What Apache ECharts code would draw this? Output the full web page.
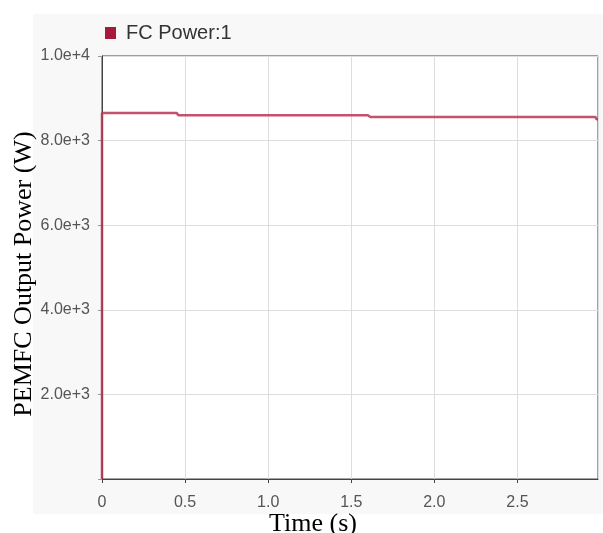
<!DOCTYPE html>
<html>
<head>
<meta charset="utf-8">
<script src="https://cdn.jsdelivr.net/npm/echarts@6/dist/echarts.min.js"></script>
<style>
  html, body { margin: 0; padding: 0; background: #fff; }
  #chart { width: 603px; height: 533px; }
</style>
</head>
<body>
<div id="chart"></div>
<script>
// Fuel cell output power over the simulation run
const timeSec = [0, 0, 0.45, 0.46, 1.60, 1.615, 2.97, 2.976, 2.985];
const powerW  = [0, 8650, 8650, 8600, 8600, 8560, 8560, 8505, 8505];
const xTicks = { min: 0, max: 2.985, interval: 0.5 };
const yTicks = { min: 0, max: 10000, interval: 2000 };
const seriesName = 'FC Power:1';
const xTitle = 'Time (s)';
const yTitle = 'PEMFC Output Power (W)';

const points = timeSec.map((t, i) => [t, powerW[i]]);
const titleFont = { fontFamily: 'Liberation Serif, Times New Roman', fontSize: 26, fill: '#000' };

const chart = echarts.init(document.getElementById('chart'));
chart.setOption({
  animation: false,
  backgroundColor: '#fff',
  graphic: [
    {
      type: 'rect',
      shape: { x: 33, y: 14, width: 570, height: 500 },
      style: { fill: '#f8f8f8' },
      z: -10
    },
    {
      type: 'text', x: 313, y: 524,
      style: Object.assign({ text: xTitle, align: 'center', verticalAlign: 'middle' }, titleFont)
    },
    {
      type: 'text', x: 24, y: 274, rotation: Math.PI / 2,
      style: Object.assign({ text: yTitle, align: 'center', verticalAlign: 'middle' }, titleFont)
    }
  ],
  legend: {
    data: [{ name: seriesName, itemStyle: { color: '#a81a3b' } }],
    left: 100, top: 18,
    icon: 'rect', itemWidth: 11, itemHeight: 12, itemGap: 8,
    textStyle: { fontFamily: 'Liberation Sans, Arial', fontSize: 20, color: '#333', padding: [0, 0, 0, 5] }
  },
  grid: {
    left: 102, top: 56, right: 5, bottom: 54,
    outerBoundsMode: 'none',
    show: true, backgroundColor: '#fff', borderColor: '#444', borderWidth: 1
  },
  xAxis: {
    type: 'value', min: xTicks.min, max: xTicks.max, interval: xTicks.interval,
    axisLine: { show: true, lineStyle: { color: '#444' } },
    axisTick: { show: true, length: 4, lineStyle: { color: '#444' } },
    axisLabel: {
      fontFamily: 'Liberation Sans, Arial', fontSize: 16, color: '#555', margin: 16,
      showMaxLabel: false,
      formatter: v => v === 0 ? '0' : v.toFixed(1)
    },
    splitLine: { show: true, lineStyle: { color: '#ddd', width: 1 } }
  },
  yAxis: {
    type: 'value', min: yTicks.min, max: yTicks.max, interval: yTicks.interval,
    axisLine: { show: true, lineStyle: { color: '#444' } },
    axisTick: { show: true, length: 4, lineStyle: { color: '#999' } },
    axisLabel: {
      fontFamily: 'Liberation Sans, Arial', fontSize: 16, color: '#555', margin: 12,
      formatter: v => v === 0 ? '' : v.toExponential(1)
    },
    splitLine: { show: true, lineStyle: { color: '#ddd', width: 1 } }
  },
  series: [{
    name: seriesName,
    type: 'line',
    data: points,
    showSymbol: false,
    lineStyle: { color: '#b83552', width: 2.5, opacity: 0.85 },
    itemStyle: { color: '#a81a3b' }
  }]
});
</script>
</body>
</html>
